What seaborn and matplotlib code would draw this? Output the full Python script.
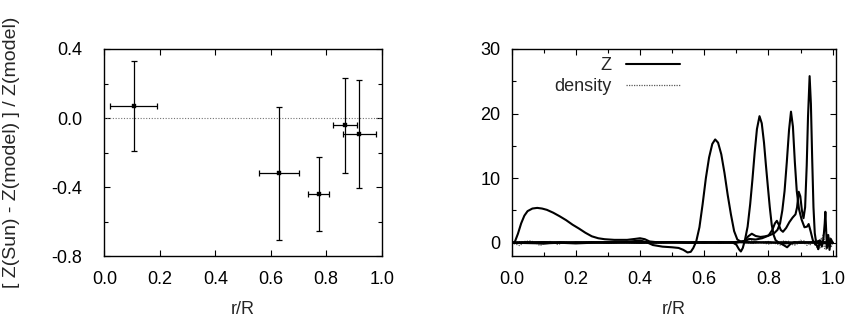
import seaborn as sns
import matplotlib.pyplot as plt
import pandas as pd
from matplotlib.ticker import MultipleLocator

# left panel: relative difference of Z with errors
r_pts = [0.105, 0.630, 0.773, 0.868, 0.919]
dz_pts = [0.07, -0.32, -0.44, -0.042, -0.095]
r_err = [0.086, 0.072, 0.038, 0.043, 0.060]
dz_err = [0.26, 0.385, 0.216, 0.274, 0.313]

# right panel: Z kernels (solid) and density kernels (dotted)
k1_r = [0.0, 0.01, 0.02, 0.03, 0.04, 0.05, 0.065, 0.08, 0.095, 0.11, 0.13, 0.15, 0.17, 0.19,
        0.21, 0.23, 0.25, 0.27, 0.29, 0.32, 0.36, 0.385, 0.40, 0.415, 0.43, 0.46, 0.5, 0.55,
        0.6, 0.65, 0.7, 0.75, 0.8, 0.85, 0.9, 0.95, 1.0]
k1_z = [0.0, 0.1, 1.4, 3.0, 4.2, 4.9, 5.3, 5.4, 5.3, 5.1, 4.65, 4.1, 3.5, 2.8,
        2.2, 1.55, 1.0, 0.7, 0.55, 0.45, 0.45, 0.6, 0.7, 0.55, 0.2, 0.05, 0.1, 0.0,
        0.1, 0.0, 0.1, 0.0, 0.1, -0.1, 0.1, 0.0, 0.0]

k2_r = [0.0, 0.05, 0.1, 0.15, 0.2, 0.25, 0.3, 0.35, 0.38, 0.40, 0.42, 0.44, 0.47, 0.50,
        0.52, 0.535, 0.548, 0.558, 0.566, 0.575, 0.585, 0.595, 0.605, 0.615, 0.625, 0.634,
        0.643, 0.653, 0.663, 0.673, 0.683, 0.693, 0.703, 0.713, 0.73, 0.76, 0.8, 0.85,
        0.9, 0.95, 1.0]
k2_z = [0.0, 0.1, -0.1, 0.1, 0.0, 0.1, 0.0, 0.1, 0.25, 0.35, 0.1, -0.35, -0.6, -0.7,
        -0.8, -1.1, -1.5, -1.4, -0.8, 0.2, 2.4, 6.0, 10.0, 13.2, 15.3, 16.0,
        15.5, 13.7, 10.8, 7.4, 4.4, 1.8, 0.5, 0.2, 0.1, 0.1, 0.0, 0.1,
        0.0, 0.1, 0.0]

k3_r = [0.0, 0.1, 0.2, 0.3, 0.4, 0.5, 0.6, 0.65, 0.69, 0.70, 0.708, 0.714, 0.72, 0.727,
        0.735, 0.743, 0.75, 0.757, 0.764, 0.772, 0.779, 0.786, 0.792, 0.798, 0.804, 0.81,
        0.816, 0.822, 0.83, 0.845, 0.858, 0.868, 0.88, 0.9, 0.95, 1.0]
k3_z = [0.0, 0.1, 0.0, 0.1, 0.0, 0.1, 0.0, 0.1, 0.0, -0.3, -1.0, -1.35, -0.8, 0.5,
        2.5, 6.0, 9.8, 14.0, 17.6, 19.6, 18.5, 15.5, 12.0, 8.7, 5.5, 2.8,
        1.2, 0.4, 0.1, -0.3, -0.7, -0.2, 0.1, 0.0, 0.1, 0.0]

k4_r = [0.0, 0.1, 0.2, 0.3, 0.4, 0.5, 0.6, 0.7, 0.725, 0.737, 0.748, 0.76, 0.775, 0.79,
        0.805, 0.818, 0.828, 0.836, 0.843, 0.85, 0.857, 0.864, 0.870, 0.876, 0.882, 0.888,
        0.895, 0.903, 0.912, 0.92, 0.925, 0.931, 0.938, 0.946, 0.955, 0.97, 1.0]
k4_z = [0.0, -0.1, 0.1, 0.0, 0.1, 0.0, 0.1, 0.0, 0.3, 1.0, 1.4, 1.05, 0.9, 1.0,
        1.2, 1.5, 2.0, 3.0, 5.0, 8.0, 12.5, 17.5, 20.3, 18.0, 12.5, 8.0,
        5.2, 3.6, 2.4, 2.5, 2.9, 1.8, 0.4, -0.3, 0.3, 0.0, 0.0]

k5_r = [0.0, 0.1, 0.2, 0.3, 0.4, 0.5, 0.6, 0.7, 0.725, 0.74, 0.76, 0.78, 0.80, 0.812,
        0.82, 0.826, 0.832, 0.838, 0.845, 0.855, 0.865, 0.875, 0.884, 0.889, 0.894, 0.899,
        0.904, 0.909, 0.914, 0.919, 0.923, 0.928, 0.932, 0.936, 0.94, 0.944, 0.949, 0.955,
        0.96, 0.966, 0.971, 0.975, 0.977, 0.979, 0.982, 0.986, 0.99, 0.994, 1.0]
k5_z = [0.0, 0.1, -0.1, 0.1, 0.0, 0.1, 0.0, 0.1, 0.2, 0.6, 0.5, 0.7, 1.1, 2.0,
        3.0, 3.4, 2.8, 2.0, 1.7, 2.3, 3.2, 3.9, 4.4, 5.5, 7.9, 7.2,
        5.0, 3.8, 5.5, 12.0, 19.5, 25.8, 21.5, 13.0, 5.5, 1.5, -0.2, -1.0,
        0.4, -0.6, 0.6, 3.0, 4.8, 2.5, -0.8, 1.2, -1.1, 0.6, 0.0]

d1_r = [0.0, 0.015, 0.026, 0.04, 0.06, 0.075, 0.089, 0.10, 0.12, 0.145, 0.16, 0.2, 0.25,
        0.3, 0.35, 0.4, 0.45, 0.5, 0.55, 0.6, 0.65, 0.7, 0.75, 0.8, 0.84, 0.86, 0.88,
        0.9, 0.92, 0.94, 0.955, 0.965, 0.975, 0.985, 0.995, 1.0]
d1_z = [0.0, -0.25, -0.45, 0.2, 0.3, 0.0, -0.45, -0.1, 0.2, -0.3, 0.1, 0.0, 0.15,
        -0.1, 0.1, 0.2, -0.1, 0.1, 0.0, 0.1, -0.1, 0.2, -0.1, 0.2, -0.4, 0.3, -0.3,
        0.4, -0.4, 0.3, -1.1, 0.8, -0.9, 1.0, -0.7, 0.0]
d2_r = [0.0, 0.03, 0.06, 0.1, 0.15, 0.2, 0.3, 0.4, 0.5, 0.6, 0.7, 0.75, 0.8, 0.85,
        0.88, 0.91, 0.93, 0.95, 0.96, 0.97, 0.98, 0.99, 1.0]
d2_z = [0.0, 0.2, -0.1, 0.15, 0.0, -0.1, 0.1, -0.05, 0.1, 0.0, 0.1, 0.3, -0.2, 0.3,
        -0.4, 0.3, -0.3, 0.5, -0.8, 1.2, -1.1, 0.9, 0.0]

kernels = [(k1_r, k1_z), (k2_r, k2_z), (k3_r, k3_z), (k4_r, k4_z), (k5_r, k5_z)]
densities = [(d1_r, d1_z), (d2_r, d2_z)]

FS = 13
sns.set_theme(style="ticks")
plt.rcParams['font.family'] = ['Liberation Sans', 'DejaVu Sans']
plt.rcParams['font.size'] = FS

fig = plt.figure(figsize=(8.48, 3.23), dpi=100)
ax1 = fig.add_axes([0.1232, 0.2074, 0.3269, 0.6409])
ax2 = fig.add_axes([0.6032, 0.2074, 0.3826, 0.6409])

# left panel
ax1.axhline(0.0, color='0.45', lw=0.8, ls=(0, (1, 1.5)))
ax1.errorbar(r_pts, dz_pts, xerr=r_err, yerr=dz_err, fmt='none', ecolor='black',
             elinewidth=0.9, capsize=2, capthick=0.9)
sns.scatterplot(x=r_pts, y=dz_pts, ax=ax1, marker='s', s=10, color='black', edgecolor='black')
ax1.set_xlim(0, 1)
ax1.set_ylim(-0.8, 0.4)
ax1.xaxis.set_major_locator(MultipleLocator(0.2))
ax1.yaxis.set_major_locator(MultipleLocator(0.4))
ax1.yaxis.set_minor_locator(MultipleLocator(0.2))
ax1.xaxis.set_major_formatter(plt.FormatStrFormatter('%.1f'))
ax1.yaxis.set_major_formatter(plt.FormatStrFormatter('%.1f'))
ax1.set_xlabel('r/R', fontsize=FS, labelpad=9)
ax1.set_ylabel('[ Z(Sun) - Z(model) ] / Z(model)', fontsize=14)
ax1.yaxis.set_label_coords(-0.305, 0.5)

# right panel
for i, (rr, zz) in enumerate(densities):
    sns.lineplot(x=rr, y=zz, ax=ax2, color='0.35', lw=0.9, ls=(0, (1, 1)),
                 sort=False, estimator=None, label='density' if i == 0 else None)
for i, (rr, zz) in enumerate(kernels):
    sns.lineplot(x=rr, y=zz, ax=ax2, color='black', lw=1.5,
                 sort=False, estimator=None, label='Z' if i == 0 else None)
ax2.set_xlim(0, 1.01)
ax2.set_ylim(-2.05, 30)
ax2.xaxis.set_major_locator(MultipleLocator(0.2))
ax2.xaxis.set_minor_locator(MultipleLocator(0.1))
ax2.yaxis.set_major_locator(MultipleLocator(10))
ax2.yaxis.set_minor_locator(MultipleLocator(5))
ax2.xaxis.set_major_formatter(plt.FormatStrFormatter('%.1f'))
ax2.set_xlabel('r/R', fontsize=FS, labelpad=9)
ax2.set_ylabel('')

h, l = ax2.get_legend_handles_labels()
order = [l.index('Z'), l.index('density')]
ax2.legend([h[j] for j in order], [l[j] for j in order], loc='upper right',
           bbox_to_anchor=(0.57, 1.04), frameon=False, markerfirst=False,
           handlelength=3.0, handletextpad=0.8, labelspacing=0.25, fontsize=FS)

for ax in (ax1, ax2):
    ax.tick_params(which='both', direction='in', top=True, right=True, width=0.8,
                   colors='black', labelsize=FS)
    ax.tick_params(which='major', length=4)
    ax.tick_params(which='minor', length=3)
    ax.tick_params(axis='x', which='both', pad=11)
    for s in ax.spines.values():
        s.set_color('black')
        s.set_linewidth(1.0)
ax1.tick_params(axis='y', which='both', pad=16)
ax2.tick_params(axis='y', which='both', pad=8)

fig.savefig('out.png', dpi=100)
